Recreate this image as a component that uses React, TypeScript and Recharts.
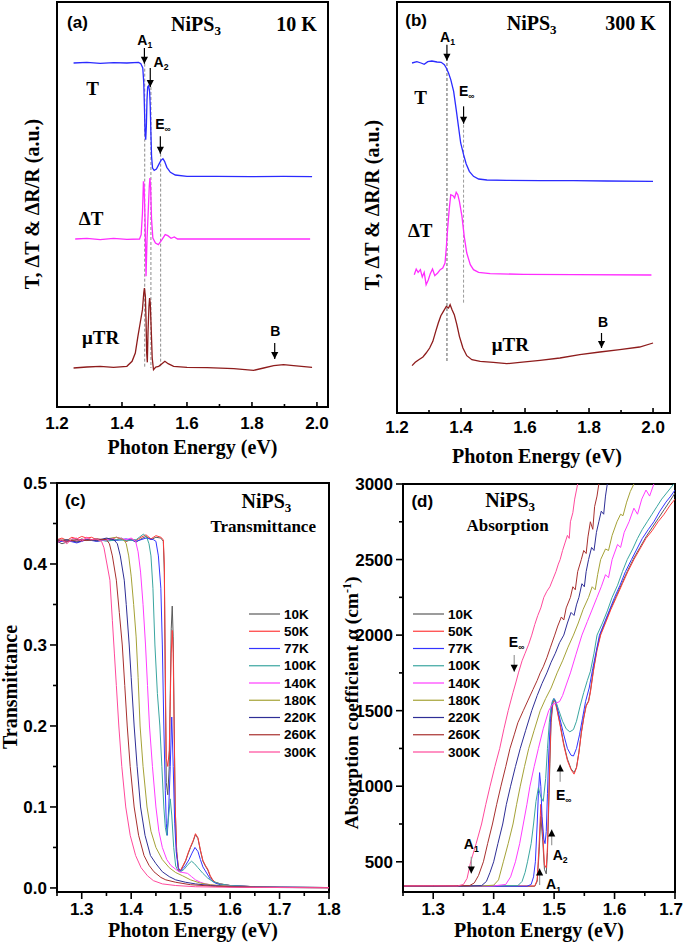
import React from 'react';
import { LineChart, Line, XAxis, YAxis, ReferenceLine, ReferenceDot, ReferenceArea, Legend, Label } from 'recharts';

const SANS = '"Liberation Sans", Arial, sans-serif';
const SERIF = '"Liberation Serif", "Times New Roman", serif';

// ---------------- Panel (a): NiPS3, 10 K (arbitrary units, offset curves) ----------------
const aT = [[1.251,1032],[1.292,1034],[1.333,1031],[1.374,1033],[1.415,1032],[1.451,1034],[1.458,1030],[1.464,1017],[1.467,972],[1.469,902],[1.471,822],[1.473,802],[1.475,842],[1.477,922],[1.479,960],[1.482,964],[1.485,947],[1.487,902],[1.489,822],[1.491,752],[1.494,717],[1.499,710],[1.506,714],[1.513,727],[1.52,740],[1.526,745],[1.531,737],[1.538,719],[1.549,704],[1.564,696],[1.6,692],[1.692,692],[1.795,691],[1.897,692],[1.985,691]];
const aDT = [[1.256,504],[1.292,506],[1.333,502],[1.374,506],[1.415,503],[1.454,504],[1.459,517],[1.463,582],[1.466,677],[1.468,662],[1.471,562],[1.474,392],[1.477,502],[1.481,592],[1.484,662],[1.486,687],[1.488,662],[1.491,562],[1.495,507],[1.503,492],[1.512,487],[1.523,502],[1.533,517],[1.541,514],[1.551,506],[1.561,510],[1.571,504],[1.641,504],[1.744,504],[1.846,504],[1.979,504]];
const aMuTR = [[1.251,117],[1.292,120],[1.333,122],[1.374,119],[1.415,122],[1.431,137],[1.441,162],[1.449,212],[1.456,252],[1.463,292],[1.467,342],[1.469,357],[1.472,332],[1.474,262],[1.476,162],[1.478,134],[1.48,222],[1.483,302],[1.485,327],[1.487,312],[1.49,232],[1.493,147],[1.497,112],[1.504,120],[1.513,122],[1.523,130],[1.532,137],[1.542,130],[1.559,122],[1.6,119],[1.662,118],[1.744,115],[1.805,110],[1.836,117],[1.867,124],[1.897,127],[1.928,124],[1.985,119]];
const aArrows = [{ x: 1.469, from: 1077, to: 1030 }, { x: 1.487, from: 1017, to: 960 }, { x: 1.518, from: 812, to: 760 }, { x: 1.87, from: 192, to: 144 }];
const aArrowLabels = [{ x: 1.47, y: 1085, t: 'A', s: '1' }, { x: 1.52, y: 1019, t: 'A', s: '2' }, { x: 1.526, y: 834, t: 'E', s: '∞' }, { x: 1.872, y: 214, t: 'B', s: '' }];
const aDashes = [{ x: 1.47, y1: 1030, y2: 117 }, { x: 1.489, y1: 960, y2: 117 }, { x: 1.519, y1: 760, y2: 122 }];
const aTexts = [{ x: 1.29, y: 937, t: 'T' }, { x: 1.267, y: 547, t: 'ΔT' }, { x: 1.277, y: 189, t: 'μTR' }];

// ---------------- Panel (b): NiPS3, 300 K ----------------
const bT = [[1.247,1050],[1.262,1054],[1.275,1050],[1.285,1046],[1.296,1054],[1.309,1056],[1.325,1053],[1.338,1052],[1.348,1045],[1.354,1035],[1.361,1020],[1.368,1000],[1.377,965],[1.385,910],[1.392,860],[1.399,810],[1.408,775],[1.416,748],[1.426,725],[1.439,710],[1.455,702],[1.481,699],[1.543,698],[1.647,697],[1.751,697],[1.855,696],[2.0,695]];
const bDT = [[1.254,415],[1.26,432],[1.266,422],[1.273,430],[1.279,408],[1.285,422],[1.291,385],[1.298,400],[1.304,418],[1.311,432],[1.318,412],[1.327,420],[1.335,430],[1.343,435],[1.35,450],[1.354,495],[1.358,550],[1.363,610],[1.368,655],[1.375,652],[1.38,645],[1.385,662],[1.39,655],[1.395,635],[1.403,590],[1.41,530],[1.418,480],[1.429,445],[1.439,430],[1.455,422],[1.491,418],[1.595,416],[1.751,415],[1.995,414]];
const bMuTR = [[1.247,142],[1.257,152],[1.268,160],[1.281,168],[1.291,180],[1.302,195],[1.312,215],[1.321,245],[1.329,270],[1.337,292],[1.345,305],[1.354,320],[1.361,315],[1.366,325],[1.372,310],[1.379,295],[1.387,265],[1.395,230],[1.406,195],[1.418,172],[1.434,160],[1.46,155],[1.501,152],[1.543,148],[1.584,152],[1.647,158],[1.709,165],[1.771,175],[1.834,183],[1.896,190],[1.958,198],[2.0,210]];
const bArrows = [{ x: 1.356, from: 1105, to: 1057 }, { x: 1.408, from: 920, to: 868 }, { x: 1.839, from: 240, to: 195 }];
const bArrowLabels = [{ x: 1.358, y: 1112, t: 'A', s: '1' }, { x: 1.418, y: 952, t: 'E', s: '∞' }, { x: 1.844, y: 257, t: 'B', s: '' }];
const bDashes = [{ x: 1.356, y1: 1050, y2: 150 }, { x: 1.408, y1: 865, y2: 325 }];
const bTexts = [{ x: 1.254, y: 928, t: 'T' }, { x: 1.234, y: 528, t: 'ΔT' }, { x: 1.496, y: 185, t: 'μTR' }];

const abTicks = [1.2, 1.3, 1.4, 1.5, 1.6, 1.7, 1.8, 1.9, 2.0];
const abMajor = [1.2, 1.4, 1.6, 1.8, 2.0];

// ---------------- Panel (c): Transmittance ----------------
const temps = ['10K', '50K', '77K', '100K', '140K', '180K', '220K', '260K', '300K'];
const tempColors = ['#5a5a5a', '#ff3b3b', '#3434ff', '#3aa6a0', '#ff3cff', '#a5a236', '#2e2e96', '#a8302e', '#ff4a9c'];

const c10 = [[1.25,0.428],[1.26,0.425],[1.27,0.427],[1.28,0.43],[1.29,0.428],[1.3,0.431],[1.31,0.429],[1.32,0.43],[1.33,0.428],[1.34,0.429],[1.35,0.431],[1.36,0.429],[1.37,0.43],[1.38,0.432],[1.39,0.428],[1.4,0.43],[1.41,0.427],[1.42,0.431],[1.43,0.434],[1.44,0.43],[1.45,0.433],[1.46,0.432],[1.465,0.428],[1.467,0.39],[1.469,0.25],[1.471,0.13],[1.474,0.115],[1.477,0.15],[1.479,0.24],[1.481,0.32],[1.483,0.348],[1.485,0.31],[1.487,0.2],[1.489,0.1],[1.492,0.045],[1.496,0.021],[1.5,0.021],[1.505,0.027],[1.51,0.033],[1.515,0.042],[1.52,0.05],[1.525,0.057],[1.53,0.066],[1.535,0.061],[1.54,0.046],[1.545,0.033],[1.55,0.027],[1.555,0.022],[1.56,0.014],[1.565,0.009],[1.57,0.007],[1.58,0.005],[1.6,0.003],[1.65,0.0015],[1.7,0.001],[1.8,0.0005]];
const c50 = [[1.25,0.43],[1.26,0.432],[1.27,0.429],[1.28,0.433],[1.29,0.431],[1.3,0.434],[1.31,0.432],[1.32,0.433],[1.33,0.43],[1.34,0.429],[1.35,0.431],[1.36,0.43],[1.37,0.433],[1.38,0.431],[1.39,0.428],[1.4,0.431],[1.41,0.429],[1.42,0.433],[1.43,0.436],[1.44,0.431],[1.45,0.435],[1.46,0.433],[1.465,0.43],[1.467,0.4],[1.469,0.27],[1.471,0.16],[1.474,0.15],[1.477,0.17],[1.479,0.23],[1.481,0.29],[1.483,0.318],[1.485,0.29],[1.487,0.19],[1.489,0.1],[1.492,0.045],[1.496,0.022],[1.5,0.022],[1.505,0.028],[1.51,0.034],[1.515,0.043],[1.52,0.051],[1.525,0.058],[1.53,0.067],[1.535,0.062],[1.54,0.047],[1.545,0.034],[1.55,0.028],[1.555,0.023],[1.56,0.015],[1.565,0.01],[1.57,0.007],[1.58,0.005],[1.6,0.003],[1.65,0.0015],[1.7,0.001],[1.8,0.0005]];
const c77 = [[1.25,0.427],[1.27,0.429],[1.29,0.426],[1.31,0.43],[1.33,0.428],[1.35,0.43],[1.37,0.429],[1.39,0.431],[1.41,0.428],[1.43,0.432],[1.445,0.43],[1.45,0.428],[1.455,0.41],[1.46,0.37],[1.463,0.3],[1.466,0.2],[1.469,0.12],[1.471,0.08],[1.473,0.065],[1.476,0.1],[1.479,0.15],[1.482,0.211],[1.485,0.15],[1.488,0.08],[1.491,0.045],[1.495,0.025],[1.5,0.021],[1.505,0.024],[1.51,0.028],[1.517,0.035],[1.523,0.043],[1.529,0.05],[1.535,0.045],[1.54,0.035],[1.545,0.026],[1.55,0.021],[1.555,0.016],[1.56,0.011],[1.565,0.008],[1.57,0.006],[1.58,0.004],[1.6,0.003],[1.65,0.0015],[1.7,0.001],[1.8,0.0005]];
const c100 = [[1.25,0.43],[1.27,0.428],[1.29,0.43],[1.31,0.429],[1.33,0.431],[1.35,0.428],[1.37,0.43],[1.39,0.429],[1.41,0.43],[1.425,0.437],[1.432,0.432],[1.436,0.425],[1.44,0.41],[1.444,0.37],[1.448,0.3],[1.453,0.24],[1.458,0.2],[1.462,0.15],[1.466,0.1],[1.469,0.075],[1.472,0.065],[1.476,0.09],[1.479,0.11],[1.482,0.09],[1.486,0.05],[1.49,0.027],[1.495,0.021],[1.5,0.02],[1.507,0.023],[1.515,0.029],[1.522,0.033],[1.528,0.03],[1.535,0.025],[1.545,0.018],[1.555,0.012],[1.565,0.008],[1.58,0.005],[1.6,0.003],[1.65,0.0015],[1.7,0.001],[1.8,0.0005]];
const c140 = [[1.25,0.43],[1.27,0.428],[1.29,0.429],[1.31,0.431],[1.33,0.429],[1.35,0.43],[1.37,0.433],[1.39,0.43],[1.4,0.432],[1.409,0.428],[1.414,0.415],[1.419,0.39],[1.424,0.35],[1.429,0.3],[1.433,0.25],[1.437,0.2],[1.443,0.15],[1.45,0.1],[1.456,0.07],[1.463,0.05],[1.472,0.035],[1.48,0.028],[1.49,0.023],[1.497,0.02],[1.505,0.019],[1.514,0.018],[1.522,0.014],[1.53,0.01],[1.54,0.007],[1.55,0.005],[1.57,0.003],[1.6,0.002],[1.65,0.001],[1.7,0.0007],[1.8,0.0004]];
const c180 = [[1.25,0.429],[1.27,0.43],[1.29,0.428],[1.31,0.43],[1.33,0.429],[1.35,0.431],[1.37,0.433],[1.385,0.43],[1.39,0.425],[1.395,0.41],[1.4,0.385],[1.405,0.35],[1.41,0.31],[1.414,0.26],[1.418,0.2],[1.424,0.15],[1.432,0.1],[1.44,0.07],[1.45,0.05],[1.463,0.035],[1.477,0.025],[1.49,0.019],[1.504,0.015],[1.52,0.01],[1.54,0.006],[1.56,0.004],[1.6,0.002],[1.65,0.001],[1.7,0.0006],[1.8,0.0003]];
const c220 = [[1.25,0.428],[1.27,0.43],[1.29,0.427],[1.31,0.43],[1.33,0.429],[1.35,0.432],[1.365,0.43],[1.372,0.425],[1.378,0.41],[1.386,0.38],[1.39,0.35],[1.396,0.3],[1.4,0.26],[1.406,0.2],[1.412,0.15],[1.419,0.1],[1.428,0.065],[1.439,0.04],[1.45,0.03],[1.463,0.02],[1.477,0.014],[1.49,0.01],[1.51,0.007],[1.53,0.005],[1.56,0.003],[1.6,0.0015],[1.7,0.0005],[1.8,0.0003]];
const c260 = [[1.25,0.43],[1.27,0.428],[1.29,0.43],[1.31,0.429],[1.33,0.431],[1.35,0.43],[1.356,0.425],[1.362,0.41],[1.37,0.38],[1.376,0.34],[1.382,0.3],[1.387,0.25],[1.392,0.2],[1.398,0.15],[1.406,0.1],[1.415,0.065],[1.426,0.04],[1.436,0.028],[1.446,0.02],[1.46,0.013],[1.47,0.01],[1.49,0.007],[1.52,0.004],[1.57,0.002],[1.65,0.0008],[1.8,0.0003]];
const c300 = [[1.25,0.426],[1.26,0.43],[1.27,0.425],[1.28,0.431],[1.29,0.432],[1.3,0.428],[1.31,0.433],[1.32,0.43],[1.33,0.431],[1.34,0.428],[1.345,0.42],[1.351,0.4],[1.357,0.38],[1.362,0.33],[1.366,0.29],[1.37,0.25],[1.375,0.2],[1.381,0.15],[1.389,0.1],[1.398,0.065],[1.409,0.04],[1.42,0.025],[1.433,0.015],[1.445,0.009],[1.463,0.005],[1.49,0.003],[1.53,0.0015],[1.6,0.0008],[1.8,0.0003]];
const cSeries = [c10, c50, c77, c100, c140, c180, c220, c260, c300];
const cXTicks = [1.25, 1.3, 1.35, 1.4, 1.45, 1.5, 1.55, 1.6, 1.65, 1.7, 1.75, 1.8];
const cXMajor = [1.3, 1.4, 1.5, 1.6, 1.7, 1.8];
const cYTicks = [0, 0.05, 0.1, 0.15, 0.2, 0.25, 0.3, 0.35, 0.4, 0.45, 0.5];
const cYMajor = [0, 0.1, 0.2, 0.3, 0.4, 0.5];
const cTexts = [{ x: 1.266, y: 0.471, t: '(c)' }];

// ---------------- Panel (d): Absorption coefficient ----------------
const d10 = [[1.25,338],[1.468,338],[1.472,370],[1.475,550],[1.478,800],[1.481,650],[1.484,450],[1.487,420],[1.489,560],[1.491,850],[1.493,1150],[1.495,1420],[1.498,1550],[1.501,1575],[1.505,1510],[1.51,1410],[1.516,1280],[1.522,1180],[1.528,1115],[1.533,1090],[1.537,1125],[1.541,1225],[1.545,1355],[1.549,1455],[1.553,1535],[1.557,1565],[1.56,1630],[1.565,1770],[1.571,1910],[1.577,2010],[1.585,2090],[1.594,2180],[1.603,2260],[1.613,2350],[1.622,2430],[1.632,2510],[1.642,2580],[1.652,2650],[1.662,2710],[1.672,2770],[1.682,2830],[1.692,2890],[1.7,2940]];
const d50 = [[1.25,340],[1.468,340],[1.472,380],[1.475,600],[1.478,880],[1.481,700],[1.484,480],[1.487,460],[1.489,600],[1.491,900],[1.493,1200],[1.495,1450],[1.498,1560],[1.501,1570],[1.505,1500],[1.51,1400],[1.516,1270],[1.522,1170],[1.528,1110],[1.533,1080],[1.537,1120],[1.541,1220],[1.545,1350],[1.549,1450],[1.553,1530],[1.557,1560],[1.56,1620],[1.565,1760],[1.571,1900],[1.577,2000],[1.585,2080],[1.594,2170],[1.603,2250],[1.613,2340],[1.622,2420],[1.632,2500],[1.642,2570],[1.652,2640],[1.662,2690],[1.672,2750],[1.682,2800],[1.692,2860],[1.7,2900]];
const d77 = [[1.25,338],[1.455,338],[1.462,350],[1.466,400],[1.469,500],[1.472,750],[1.474,950],[1.476,1090],[1.478,1000],[1.48,800],[1.483,650],[1.485,620],[1.487,700],[1.489,950],[1.491,1200],[1.494,1450],[1.497,1560],[1.5,1580],[1.504,1540],[1.51,1440],[1.516,1340],[1.522,1250],[1.528,1205],[1.532,1200],[1.537,1250],[1.542,1340],[1.547,1450],[1.552,1560],[1.558,1650],[1.564,1780],[1.57,1900],[1.575,2000],[1.583,2080],[1.591,2160],[1.6,2250],[1.609,2330],[1.618,2420],[1.628,2500],[1.637,2570],[1.646,2640],[1.656,2700],[1.665,2750],[1.675,2820],[1.685,2880],[1.693,2920],[1.7,2960]];
const d100 = [[1.25,340],[1.44,342],[1.447,370],[1.452,430],[1.456,500],[1.462,620],[1.466,750],[1.47,900],[1.474,990],[1.478,930],[1.482,900],[1.486,1050],[1.489,1250],[1.492,1420],[1.495,1530],[1.499,1580],[1.503,1560],[1.508,1500],[1.514,1430],[1.52,1380],[1.526,1360],[1.532,1375],[1.537,1430],[1.543,1530],[1.549,1620],[1.555,1700],[1.56,1760],[1.566,1880],[1.571,2000],[1.58,2080],[1.588,2160],[1.596,2250],[1.605,2330],[1.613,2420],[1.621,2500],[1.63,2570],[1.638,2640],[1.646,2700],[1.654,2750],[1.662,2800],[1.67,2850],[1.678,2900],[1.686,2940],[1.694,2980],[1.7,3010]];
const d140 = [[1.25,340],[1.4,340],[1.42,350],[1.428,400],[1.436,500],[1.443,620],[1.449,750],[1.455,880],[1.46,1000],[1.467,1130],[1.474,1250],[1.482,1380],[1.491,1500],[1.497,1540],[1.503,1550],[1.509,1560],[1.514,1600],[1.52,1670],[1.527,1750],[1.536,1870],[1.546,2000],[1.555,2090],[1.562,2160],[1.571,2250],[1.578,2320],[1.585,2400],[1.59,2380],[1.596,2500],[1.605,2600],[1.61,2580],[1.616,2680],[1.624,2750],[1.632,2840],[1.638,2800],[1.645,2900],[1.652,2960],[1.658,2920],[1.665,3000],[1.675,3100]];
const d180 = [[1.25,340],[1.38,340],[1.4,345],[1.408,380],[1.416,500],[1.424,620],[1.432,750],[1.438,880],[1.444,1000],[1.451,1130],[1.458,1250],[1.467,1370],[1.477,1500],[1.486,1580],[1.495,1650],[1.505,1750],[1.514,1830],[1.523,1920],[1.532,2000],[1.54,2080],[1.548,2170],[1.557,2250],[1.563,2320],[1.568,2300],[1.572,2400],[1.577,2500],[1.585,2570],[1.59,2560],[1.596,2660],[1.604,2750],[1.61,2800],[1.614,2790],[1.62,2880],[1.626,2950],[1.632,3000],[1.64,3100]];
const d220 = [[1.25,338],[1.35,339],[1.38,342],[1.388,370],[1.394,430],[1.4,500],[1.407,620],[1.415,750],[1.421,880],[1.428,1000],[1.436,1130],[1.444,1250],[1.453,1370],[1.463,1500],[1.472,1600],[1.48,1680],[1.488,1750],[1.495,1820],[1.502,1880],[1.509,1950],[1.516,2000],[1.522,2080],[1.528,2150],[1.533,2130],[1.537,2200],[1.541,2250],[1.546,2340],[1.55,2320],[1.553,2420],[1.557,2500],[1.562,2580],[1.566,2560],[1.57,2680],[1.574,2750],[1.578,2820],[1.582,2800],[1.585,2920],[1.588,3000],[1.595,3100]];
const d260 = [[1.25,340],[1.32,341],[1.36,342],[1.368,360],[1.375,410],[1.383,500],[1.39,620],[1.398,750],[1.405,880],[1.412,1000],[1.42,1130],[1.427,1250],[1.434,1340],[1.44,1420],[1.449,1500],[1.457,1570],[1.465,1640],[1.472,1700],[1.477,1750],[1.482,1790],[1.488,1850],[1.494,1920],[1.501,2000],[1.506,2060],[1.512,2120],[1.516,2100],[1.52,2180],[1.527,2250],[1.531,2320],[1.535,2300],[1.539,2420],[1.545,2500],[1.549,2560],[1.553,2540],[1.556,2650],[1.56,2750],[1.564,2700],[1.567,2850],[1.571,2920],[1.574,3000],[1.58,3100]];
const d300 = [[1.25,340],[1.3,341],[1.34,340],[1.35,350],[1.356,390],[1.362,500],[1.371,620],[1.38,750],[1.387,880],[1.394,1000],[1.402,1130],[1.41,1250],[1.417,1380],[1.424,1500],[1.432,1620],[1.437,1690],[1.441,1750],[1.447,1830],[1.452,1880],[1.458,1940],[1.463,2000],[1.468,2070],[1.473,2130],[1.478,2180],[1.483,2250],[1.488,2290],[1.493,2320],[1.498,2370],[1.503,2420],[1.507,2470],[1.51,2500],[1.514,2560],[1.518,2610],[1.522,2660],[1.525,2640],[1.527,2750],[1.531,2810],[1.534,2900],[1.537,2960],[1.539,3000],[1.545,3100]];
const dSeries = [d10, d50, d77, d100, d140, d180, d220, d260, d300];
const dXTicks = [1.25, 1.3, 1.35, 1.4, 1.45, 1.5, 1.55, 1.6, 1.65, 1.7];
const dXMajor = [1.3, 1.4, 1.5, 1.6, 1.7];
const dYTicks = [500, 750, 1000, 1250, 1500, 1750, 2000, 2250, 2500, 2750, 3000];
const dYMajor = [500, 1000, 1500, 2000, 2500, 3000];
const dArrows = [
  { x: 1.363, from: 533, to: 423, gray: true },
  { x: 1.434, from: 1868, to: 1758, gray: true },
  { x: 1.51, from: 1030, to: 1144, gray: true },
  { x: 1.496, from: 610, to: 714, gray: true },
  { x: 1.476, from: 346, to: 456, gray: true },
];
const dArrowLabels = [
  { x: 1.363, y: 582, t: 'A', s: '1' },
  { x: 1.438, y: 1923, t: 'E', s: '∞' },
  { x: 1.516, y: 908, t: 'E', s: '∞' },
  { x: 1.51, y: 511, t: 'A', s: '2' },
  { x: 1.499, y: 317, t: 'A', s: '1' },
];
const dTexts = [{ x: 1.264, y: 2850, t: '(d)' }];

// ---------------- helpers ----------------
const xy = (a: number[][]) => a.map(([x, y]) => ({ x, y }));
const isIn = (list: number[], v: number) => list.some((m) => Math.abs(m - v) < 1e-6);

function xTick(majors: number[], inward: boolean, labelDy: number, digits: number, rightLimit = 9999) {
  return (p: any) => {
    const v = Number(p.payload.value);
    const major = isIn(majors, v);
    const len = major ? (inward ? 5 : 7) : inward ? 3 : 4;
    const label = v.toFixed(digits);
    const half = label.length * 4.6;
    const overflow = p.x + half > rightLimit;
    return (
      <g>
        <line x1={p.x} x2={p.x} y1={p.y} y2={inward ? p.y - len : p.y + len} stroke="#000" strokeWidth={1.6} />
        {major && (
          <text x={overflow ? rightLimit : p.x} y={p.y + labelDy} textAnchor={overflow ? 'end' : 'middle'} fontFamily={SANS} fontWeight="bold" fontSize={17} fill="#000">
            {label}
          </text>
        )}
      </g>
    );
  };
}

function yTick(majors: number[], digits: number) {
  return (p: any) => {
    const v = Number(p.payload.value);
    const major = isIn(majors, v);
    const len = major ? 7 : 4;
    return (
      <g>
        <line x1={p.x} x2={p.x - len} y1={p.y} y2={p.y} stroke="#000" strokeWidth={1.6} />
        {major && (
          <text x={p.x - 10} y={p.y + 6} textAnchor="end" fontFamily={SANS} fontWeight="bold" fontSize={17} fill="#000">
            {v.toFixed(digits)}
          </text>
        )}
      </g>
    );
  };
}

const textShape = (t: string, s: string, anchor: 'start' | 'middle', family: string, size: number) => (p: any) => (
  <text x={p.cx} y={p.cy} textAnchor={anchor} fontFamily={family} fontWeight="bold" fontSize={size} fill="#000">
    {t}
    {s ? (
      <tspan fontSize={size * 0.62} dy={size * 0.22}>
        {s}
      </tspan>
    ) : null}
  </text>
);

const headShape = (down: boolean) => (p: any) => {
  const h = 7;
  const w = 3.6;
  const by = down ? p.cy - h : p.cy + h;
  return <path d={`M${p.cx},${p.cy} L${p.cx - w},${by} L${p.cx + w},${by} Z`} fill="#000" />;
};

const titleX = (t: string, cx: number, by: number) => () => (
  <text x={cx} y={by} textAnchor="middle" fontFamily={SERIF} fontWeight="bold" fontSize={20} fill="#000">
    {t}
  </text>
);

function arrowEls(arrows: { x: number; from: number; to: number; gray?: boolean }[], key: string) {
  const out: any[] = [];
  arrows.forEach((a, i) => {
    out.push(
      <ReferenceLine key={`${key}s${i}`} segment={[{ x: a.x, y: a.from }, { x: a.x, y: a.to }]} stroke={a.gray ? '#9a9a9a' : '#000'} strokeWidth={1.2} ifOverflow="visible" />
    );
    out.push(<ReferenceDot key={`${key}h${i}`} x={a.x} y={a.to} ifOverflow="visible" shape={headShape(a.to < a.from)} />);
  });
  return out;
}

function labelEls(labels: { x: number; y: number; t: string; s: string }[], key: string, size: number) {
  return labels.map((l, i) => (
    <ReferenceDot key={`${key}${i}`} x={l.x} y={l.y} ifOverflow="visible" shape={textShape(l.t, l.s, 'middle', SANS, size)} />
  ));
}

function startTextEls(labels: { x: number; y: number; t: string }[], key: string, family: string, size: number) {
  return labels.map((l, i) => (
    <ReferenceDot key={`${key}${i}`} x={l.x} y={l.y} ifOverflow="visible" shape={textShape(l.t, '', 'start', family, size)} />
  ));
}

const nipsShape = (p: any) => (
  <text x={p.cx} y={p.cy} fontFamily={SERIF} fontWeight="bold" fontSize={20} fill="#000">
    NiPS
    <tspan fontSize={13} dy={4}>3</tspan>
  </text>
);

const legendContent = () => (
  <svg width={110} height={165}>
    {temps.map((t, i) => (
      <g key={t}>
        <line x1={9} x2={40} y1={14 + i * 17.25} y2={14 + i * 17.25} stroke={tempColors[i]} strokeWidth={1.2} />
        <text x={44} y={14 + i * 17.25} dominantBaseline="central" fontFamily={SANS} fontWeight="bold" fontSize={13.5} fill="#000">
          {t}
        </text>
      </g>
    ))}
  </svg>
);

// ---------------- panels ----------------
function PanelA() {
  return (
    <LineChart width={340} height={470} margin={{ top: 2, right: 12, bottom: 0, left: 0 }}>
      <XAxis type="number" dataKey="x" domain={[1.2, 2.034]} allowDataOverflow ticks={abTicks} interval={0} height={63} tickSize={0} tickMargin={0} tickLine={false} axisLine={{ stroke: '#000', strokeWidth: 2 }} tick={xTick(abMajor, true, 22, 1)}>
        <Label content={titleX('Photon Energy (eV)', 192.5, 454)} />
      </XAxis>
      <YAxis type="number" domain={[0, 1215]} allowDataOverflow width={57} tick={false} tickLine={false} axisLine={{ stroke: '#000', strokeWidth: 2 }}>
        <Label content={() => (
          <text x={39} y={204} transform="rotate(-90 39 204)" textAnchor="middle" fontFamily={SERIF} fontWeight="bold" fontSize={20} fill="#000">
            T, ΔT &amp; ΔR/R (a.u.)
          </text>
        )} />
      </YAxis>
      <ReferenceArea x1={1.2} x2={2.034} y1={0} y2={1215} fill="none" stroke="#000" strokeWidth={2} ifOverflow="visible" />
      {aDashes.map((d, i) => (
        <ReferenceLine key={`ad${i}`} segment={[{ x: d.x, y: d.y1 }, { x: d.x, y: d.y2 }]} stroke="#8c8c8c" strokeWidth={1} strokeDasharray="3 2" ifOverflow="visible" />
      ))}
      <Line data={xy(aT)} dataKey="y" stroke="#2b2bff" strokeWidth={1.3} dot={false} activeDot={false} isAnimationActive={false} />
      <Line data={xy(aDT)} dataKey="y" stroke="#ff2cff" strokeWidth={1.3} dot={false} activeDot={false} isAnimationActive={false} />
      <Line data={xy(aMuTR)} dataKey="y" stroke="#8e1c1c" strokeWidth={1.3} dot={false} activeDot={false} isAnimationActive={false} />
      {arrowEls(aArrows, 'aa')}
      {labelEls(aArrowLabels, 'al', 14)}
      {startTextEls(aTexts, 'at', SERIF, 19)}
      <ReferenceDot x={1.231} y={1137} ifOverflow="visible" shape={textShape('(a)', '', 'start', SANS, 17)} />
      <ReferenceDot x={1.551} y={1129} ifOverflow="visible" shape={nipsShape} />
      <ReferenceDot x={1.875} y={1129} ifOverflow="visible" shape={textShape('10 K', '', 'start', SERIF, 20)} />
    </LineChart>
  );
}

function PanelB() {
  return (
    <LineChart width={345} height={470} margin={{ top: 2, right: 15, bottom: 0, left: 0 }}>
      <XAxis type="number" dataKey="x" domain={[1.2, 2.053]} allowDataOverflow ticks={abTicks} interval={0} height={57} tickSize={0} tickMargin={0} tickLine={false} axisLine={{ stroke: '#000', strokeWidth: 2 }} tick={xTick(abMajor, true, 20, 1)}>
        <Label content={titleX('Photon Energy (eV)', 197, 463)} />
      </XAxis>
      <YAxis type="number" domain={[0, 1233]} allowDataOverflow width={57} tick={false} tickLine={false} axisLine={{ stroke: '#000', strokeWidth: 2 }}>
        <Label content={() => (
          <text x={39} y={205} transform="rotate(-90 39 205)" textAnchor="middle" fontFamily={SERIF} fontWeight="bold" fontSize={20} fill="#000">
            T, ΔT &amp; ΔR/R (a.u.)
          </text>
        )} />
      </YAxis>
      <ReferenceArea x1={1.2} x2={2.053} y1={0} y2={1233} fill="none" stroke="#000" strokeWidth={2} ifOverflow="visible" />
      {bDashes.map((d, i) => (
        <ReferenceLine key={`bd${i}`} segment={[{ x: d.x, y: d.y1 }, { x: d.x, y: d.y2 }]} stroke="#9a9a9a" strokeWidth={i === 0 ? 1.6 : 1} strokeDasharray="3 2" ifOverflow="visible" />
      ))}
      <Line data={xy(bT)} dataKey="y" stroke="#2b2bff" strokeWidth={1.3} dot={false} activeDot={false} isAnimationActive={false} />
      <Line data={xy(bDT)} dataKey="y" stroke="#ff2cff" strokeWidth={1.3} dot={false} activeDot={false} isAnimationActive={false} />
      <Line data={xy(bMuTR)} dataKey="y" stroke="#8e1c1c" strokeWidth={1.3} dot={false} activeDot={false} isAnimationActive={false} />
      {arrowEls(bArrows, 'ba')}
      {labelEls(bArrowLabels, 'bl', 14)}
      {startTextEls(bTexts, 'bt', SERIF, 19)}
      <ReferenceDot x={1.226} y={1160} ifOverflow="visible" shape={textShape('(b)', '', 'start', SANS, 17)} />
      <ReferenceDot x={1.543} y={1150} ifOverflow="visible" shape={nipsShape} />
      <ReferenceDot x={1.851} y={1150} ifOverflow="visible" shape={textShape('300 K', '', 'start', SERIF, 20)} />
    </LineChart>
  );
}

function PanelC() {
  return (
    <LineChart width={345} height={473} margin={{ top: 13, right: 16, bottom: 0, left: 0 }}>
      <XAxis type="number" dataKey="x" domain={[1.25, 1.8]} allowDataOverflow ticks={cXTicks} interval={0} height={51} tickSize={0} tickMargin={0} tickLine={false} axisLine={{ stroke: '#000', strokeWidth: 2 }} tick={xTick(cXMajor, false, 23, 1, 343)}>
        <Label content={titleX('Photon Energy (eV)', 193, 467)} />
      </XAxis>
      <YAxis type="number" domain={[-0.005, 0.5]} allowDataOverflow ticks={cYTicks} interval={0} width={57} tickSize={0} tickMargin={0} tickLine={false} axisLine={{ stroke: '#000', strokeWidth: 2 }} tick={yTick(cYMajor, 1)}>
        <Label content={() => (
          <text x={17} y={217} transform="rotate(-90 17 217)" textAnchor="middle" fontFamily={SERIF} fontWeight="bold" fontSize={20} fill="#000">
            Transmittance
          </text>
        )} />
      </YAxis>
      <ReferenceArea x1={1.25} x2={1.8} y1={-0.005} y2={0.5} fill="none" stroke="#000" strokeWidth={2} ifOverflow="visible" />
      {cSeries.map((s, i) => (
        <Line key={temps[i]} name={temps[i]} data={xy(s)} dataKey="y" stroke={tempColors[i]} strokeWidth={1} dot={false} activeDot={false} isAnimationActive={false} />
      ))}
      {startTextEls(cTexts, 'ct', SANS, 17)}
      <ReferenceDot x={1.623} y={0.469} ifOverflow="visible" shape={nipsShape} />
      <ReferenceDot x={1.667} y={0.44} ifOverflow="visible" shape={textShape('Transmittance', '', 'middle', SERIF, 17)} />
      <Legend layout="vertical" align="center" verticalAlign="middle" content={legendContent} wrapperStyle={{ left: 240, top: 130, width: 110, height: 165 }} />
    </LineChart>
  );
}

function PanelD() {
  return (
    <LineChart width={345} height={473} margin={{ top: 14, right: 10, bottom: 0, left: 0 }}>
      <XAxis type="number" dataKey="x" domain={[1.25, 1.7]} allowDataOverflow ticks={dXTicks} interval={0} height={51} tickSize={0} tickMargin={0} tickLine={false} axisLine={{ stroke: '#000', strokeWidth: 2 }} tick={xTick(dXMajor, false, 23, 1, 343)}>
        <Label content={titleX('Photon Energy (eV)', 199, 467)} />
      </XAxis>
      <YAxis type="number" domain={[300, 3000]} allowDataOverflow ticks={dYTicks} interval={0} width={63} tickSize={0} tickMargin={0} tickLine={false} axisLine={{ stroke: '#000', strokeWidth: 2 }} tick={yTick(dYMajor, 0)}>
        <Label content={() => (
          <text x={18} y={233} transform="rotate(-90 18 233)" textAnchor="middle" fontFamily={SERIF} fontWeight="bold" fontSize={19.5} fill="#000">
            Absorption coefficient α (cm
            <tspan fontSize={12} dy={-7}>-1</tspan>
            <tspan dy={7}>)</tspan>
          </text>
        )} />
      </YAxis>
      <ReferenceArea x1={1.25} x2={1.7} y1={300} y2={3000} fill="none" stroke="#000" strokeWidth={2} ifOverflow="visible" />
      {dSeries.map((s, i) => (
        <Line key={temps[i]} name={temps[i]} data={xy(s)} dataKey="y" stroke={tempColors[i]} strokeWidth={1} dot={false} activeDot={false} isAnimationActive={false} />
      ))}
      {arrowEls(dArrows, 'da')}
      {labelEls(dArrowLabels, 'dl', 14)}
      {startTextEls(dTexts, 'dt', SANS, 17)}
      <ReferenceDot x={1.386} y={2846} ifOverflow="visible" shape={nipsShape} />
      <ReferenceDot x={1.423} y={2689} ifOverflow="visible" shape={textShape('Absorption', '', 'middle', SERIF, 17)} />
      <Legend layout="vertical" align="center" verticalAlign="middle" content={legendContent} wrapperStyle={{ left: 64, top: 130, width: 110, height: 165 }} />
    </LineChart>
  );
}

export default function App() {
  return (
    <div style={{ position: 'absolute', left: 0, top: 0, width: 685, height: 943, background: '#fff', overflow: 'hidden' }}>
      <div style={{ position: 'absolute', left: 0, top: 0 }}>
        <PanelA />
      </div>
      <div style={{ position: 'absolute', left: 340, top: 0 }}>
        <PanelB />
      </div>
      <div style={{ position: 'absolute', left: 0, top: 470 }}>
        <PanelC />
      </div>
      <div style={{ position: 'absolute', left: 340, top: 470 }}>
        <PanelD />
      </div>
    </div>
  );
}
